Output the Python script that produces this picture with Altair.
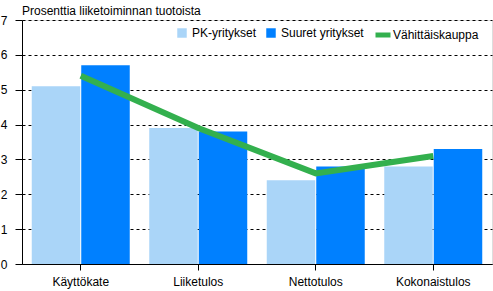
import altair as alt
import pandas as pd

categories = ["Käyttökate", "Liiketulos", "Nettotulos", "Kokonaistulos"]
bar_series = ["PK-yritykset", "Suuret yritykset"]
pk = [5.1, 3.9, 2.4, 2.8]
suuret = [5.7, 3.8, 2.8, 3.3]
line_series = "Vähittäiskauppa"
vahittais = [5.4, 3.9, 2.6, 3.1]
y_ticks = [0, 1, 2, 3, 4, 5, 6, 7]

rows = []
for c, a, b in zip(categories, pk, suuret):
    rows.append({"cat": c, "series": bar_series[0], "value": a})
    rows.append({"cat": c, "series": bar_series[1], "value": b})
bars_df = pd.DataFrame(rows)
line_df = pd.DataFrame({"cat": categories, "series": line_series, "value": vahittais})

FONT = "Liberation Sans"
FS = 12

x_enc = alt.X("cat:N", sort=categories, title=None,
              scale=alt.Scale(paddingInner=0.166, paddingOuter=0.083),
              axis=alt.Axis(labelAngle=0, labelFontSize=FS, labelColor="black",
                            labelFont=FONT, domainColor="black", tickColor="black",
                            tickSize=6, labelPadding=6, grid=False))
y_enc = alt.Y("value:Q", title=None,
              scale=alt.Scale(domain=[0, 7], nice=False, zero=True),
              axis=alt.Axis(values=y_ticks, labelFontSize=FS, labelColor="black",
                            labelFont=FONT, domainColor="black", tickColor="black",
                            tickSize=7, labelPadding=8, labelOverlap=False,
                            grid=True, gridColor="black",
                            gridDash=[3, 3], gridOpacity=1, gridWidth=1))

bars = alt.Chart(bars_df).mark_bar().encode(
    x=x_enc,
    y=y_enc,
    xOffset=alt.XOffset("series:N", sort=bar_series, scale=alt.Scale(paddingInner=0.02)),
    color=alt.Color("series:N", sort=bar_series,
                    scale=alt.Scale(domain=bar_series, range=["#aad5f8", "#0080ff"]),
                    legend=alt.Legend(title=None, orient="none", legendX=154, legendY=7,
                                      direction="horizontal", symbolType="square",
                                      symbolSize=90, symbolStrokeWidth=0,
                                      labelFontSize=FS, labelFont=FONT, labelColor="black",
                                      labelOffset=4, columnPadding=8)),
)

line = alt.Chart(line_df).mark_line(strokeWidth=6).encode(
    x=x_enc,
    y=y_enc,
    stroke=alt.Stroke("series:N",
                      scale=alt.Scale(domain=[line_series], range=["#33b04e"]),
                      legend=alt.Legend(title=None, orient="none", legendX=351, legendY=5,
                                        symbolType="stroke", symbolSize=225,
                                        symbolStrokeWidth=5,
                                        labelFontSize=FS, labelFont=FONT, labelColor="black",
                                        labelOffset=0)),
)

chart = alt.layer(bars, line).properties(
    width=470, height=244,
    padding={"left": 22, "top": 20, "right": 1, "bottom": 27},
    autosize=alt.AutoSizeParams(type="none"),
    title=alt.Title("Prosenttia liiketoiminnan tuotoista", anchor="start", frame="group",
                    fontSize=FS, fontWeight="normal", font=FONT, color="black", offset=-4),
).configure_view(stroke="black", strokeWidth=1).configure(background="white")

chart.save("out.html", embed_options={"renderer": "svg", "actions": False})
